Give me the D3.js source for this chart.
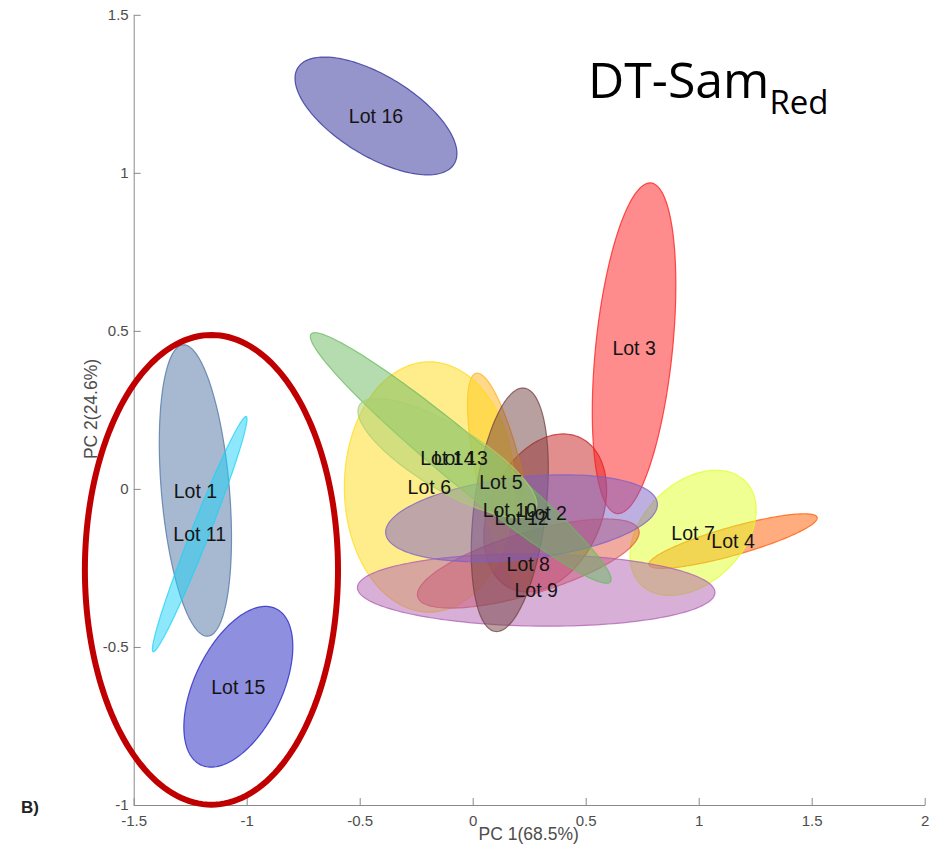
<!DOCTYPE html>
<html>
<head>
<meta charset="utf-8">
<script src="https://cdn.jsdelivr.net/npm/d3@7"></script>
<style>
  body { margin: 0; background: #fff; }
  svg { display: block; }
</style>
</head>
<body>
<svg id="chart"></svg>
<script>
// lots, drawn in this order
const lots = ['Lot 1', 'Lot 2', 'Lot 3', 'Lot 4', 'Lot 5', 'Lot 6', 'Lot 7', 'Lot 8',
  'Lot 9', 'Lot 10', 'Lot 11', 'Lot 12', 'Lot 13', 'Lot 14', 'Lot 15', 'Lot 16']

// ellipse centres (PC1, PC2)
const centerX = [-1.227, 0.321, 0.714, 1.152, 0.125, -0.192, 0.975, 0.246,
  0.281, 0.164, -1.208, 0.216, -0.053, -0.112, -1.037, -0.428]
const centerY = [-0.005, -0.076, 0.445, -0.165, 0.023, 0.006, -0.139, -0.236,
  -0.320, -0.066, -0.143, -0.093, 0.098, 0.098, -0.626, 1.180]

// end of the major semi-axis
const majorX = [-1.282, 0.473, 0.789, 1.524, 0.015, -0.192, 1.208, 0.735,
  1.072, 0.228, -1.002, 0.817, 0.609, 0.277, -0.870, -0.082]
const majorY = [0.456, 0.163, 0.968, -0.090, 0.366, 0.402, 0.023, -0.130,
  -0.328, 0.319, 0.229, -0.045, -0.294, -0.069, -0.379, 1.028]

// end of the minor semi-axis
const minorX = [-1.077, 0.546, 0.883, 1.169, 0.224, 0.184, 1.129, 0.285,
  0.279, 0.322, -1.171, 0.236, -0.120, -0.185, -0.863, -0.521]
const minorY = [0.004, -0.149, 0.432, -0.208, 0.040, 0.006, -0.253, -0.329,
  -0.434, -0.080, -0.154, -0.222, 0.040, 0.011, -0.687, 1.072]

const colors = ['#4d73a3', '#c81e1e', '#ff1a1a', '#ff5a00', '#ffb114', '#ffdb19',
  '#e1ff25', '#e15541', '#af5faf', '#734141', '#1dd1f7', '#7d5fc3', '#69b95f',
  '#a8cf70', '#1f1fc1', '#2b2b97']

// red ring round lots 1, 11 and 15
const ringCenter = [-1.156, -0.256]
const ringMajor = [-1.156, 0.487]
const ringMinor = [-0.596, -0.256]

const xTicks = [-1.5, -1, -0.5, 0, 0.5, 1, 1.5, 2]
const yTicks = [-1, -0.5, 0, 0.5, 1, 1.5]

const width = 940
const height = 857

const svg = d3.select('#chart')
  .attr('width', width)
  .attr('height', height)

svg.append('rect')
  .attr('width', width)
  .attr('height', height)
  .attr('fill', '#fff')

// set the ranges
const x = d3.scaleLinear().domain([-1.5, 2]).range([133.7, 924.7])
const y = d3.scaleLinear().domain([-1, 1.5]).range([805, 14.8])

// ellipse from centre and two conjugate semi-axes, in data units
const steps = d3.range(0, 2 * Math.PI, Math.PI / 90)
const ellipse = d3.line()
  .x(d => x(d[0]))
  .y(d => y(d[1]))
  .curve(d3.curveLinearClosed)

function ellipsePoints(c, m, n) {
  return steps.map(t => [
    c[0] + (m[0] - c[0]) * Math.cos(t) + (n[0] - c[0]) * Math.sin(t),
    c[1] + (m[1] - c[1]) * Math.cos(t) + (n[1] - c[1]) * Math.sin(t)
  ])
}

const data = lots.map((name, i) => ({
  name,
  c: [centerX[i], centerY[i]],
  m: [majorX[i], majorY[i]],
  n: [minorX[i], minorY[i]],
  color: colors[i]
}))

// axes
const tickFmt = d => String(d)
const axisColor = '#8a8a8a'

const gx = svg.append('g')
  .attr('transform', 'translate(0,' + y(-1) + ')')
  .call(d3.axisBottom(x).tickValues(xTicks).tickFormat(tickFmt)
    .tickSizeInner(-7).tickSizeOuter(0).tickPadding(10.5))

const gy = svg.append('g')
  .attr('transform', 'translate(' + x(-1.5) + ',0)')
  .call(d3.axisLeft(y).tickValues(yTicks).tickFormat(tickFmt)
    .tickSizeInner(-7).tickSizeOuter(0).tickPadding(5))

for (const g of [gx, gy]) {
  g.select('.domain').attr('stroke', axisColor)
  g.selectAll('.tick line').attr('stroke', axisColor)
  g.selectAll('.tick text')
    .attr('fill', '#4d4d4d')
    .style('font-family', '"Liberation Sans", Arial, sans-serif')
    .style('font-size', '15px')
}

// ellipses
svg.append('g')
  .selectAll('path')
  .data(data)
  .join('path')
  .attr('d', d => ellipse(ellipsePoints(d.c, d.m, d.n)))
  .attr('fill', d => d.color)
  .attr('fill-opacity', 0.5)
  .attr('stroke', d => d.color)
  .attr('stroke-opacity', 0.75)
  .attr('stroke-width', 1.2)

// labels
svg.append('g')
  .selectAll('text')
  .data(data)
  .join('text')
  .attr('x', d => x(d.c[0]))
  .attr('y', d => y(d.c[1]))
  .attr('text-anchor', 'middle')
  .attr('dominant-baseline', 'central')
  .attr('fill', '#141414')
  .style('font-family', '"Liberation Sans", Arial, sans-serif')
  .style('font-size', '19.5px')
  .text(d => d.name)

// red ring
svg.append('path')
  .attr('d', ellipse(ellipsePoints(ringCenter, ringMajor, ringMinor)))
  .attr('fill', 'none')
  .attr('stroke', '#c00000')
  .attr('stroke-width', 6)

// axis titles
svg.append('text')
  .attr('x', 528.7)
  .attr('y', 840)
  .attr('text-anchor', 'middle')
  .attr('fill', '#4d4d4d')
  .style('font-family', '"Liberation Sans", Arial, sans-serif')
  .style('font-size', '17.5px')
  .text('PC 1(68.5%)')

svg.append('text')
  .attr('transform', 'translate(97,409) rotate(-90)')
  .attr('text-anchor', 'middle')
  .attr('fill', '#4d4d4d')
  .style('font-family', '"Liberation Sans", Arial, sans-serif')
  .style('font-size', '17.5px')
  .text('PC 2(24.6%)')

svg.append('text')
  .attr('x', 21)
  .attr('y', 812.5)
  .attr('fill', '#222')
  .style('font-family', '"Liberation Sans", Arial, sans-serif')
  .style('font-size', '17px')
  .style('font-weight', 'bold')
  .text('B)')

// title
const title = svg.append('text')
  .attr('x', 588)
  .attr('y', 98)
  .attr('fill', '#000')
  .style('font-family', '"Open Sans", sans-serif')
  .style('font-size', '50px')
title.append('tspan').text('DT-Sam')
title.append('tspan')
  .attr('dy', 16)
  .style('font-size', '33px')
  .text('Red')
</script>
</body>
</html>
